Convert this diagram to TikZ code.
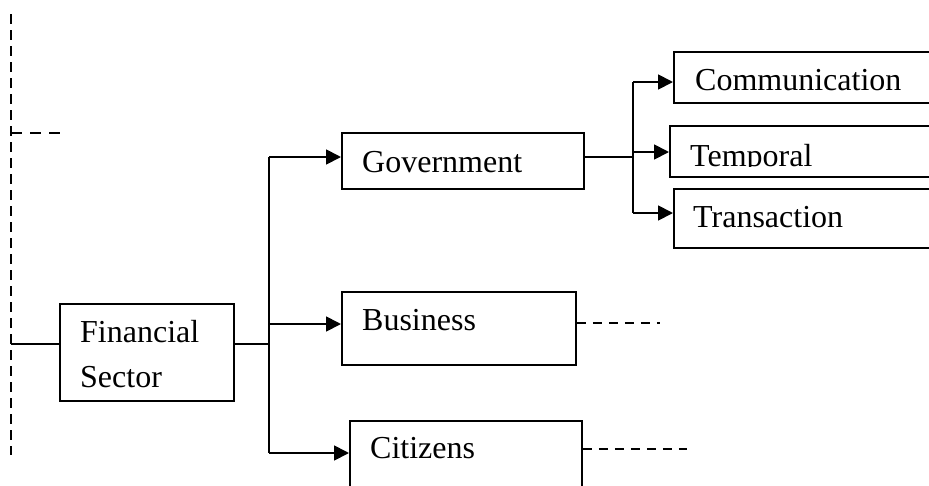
\documentclass[tikz,border=0pt]{standalone}
\usepackage{fontspec}
\setmainfont{Liberation Serif}
\usetikzlibrary{arrows.meta}
\tikzset{
  box/.style={draw, line width=1.8pt, rectangle, inner sep=0pt, anchor=north west},
  txt/.style={inner sep=0pt, anchor=base west, font=\fontsize{32}{37}\selectfont},
  link/.style={line width=1.8pt},
  arr/.style={line width=1.8pt, -{Triangle[length=15pt,width=15pt]}},
  trail/.style={line width=1.9pt, dash pattern=on 9pt off 7pt},
  frame/.style={line width=2.6pt, dash pattern=on 10pt off 6pt},
}
\begin{document}
\begin{tikzpicture}[x=1pt,y=-1pt]
\useasboundingbox (0,0) rectangle (929,485);
\clip (0,0) rectangle (929,485);

% boxes
\node[box, minimum width=174pt, minimum height=97pt] (fin) at (59,303) {};
\node[box, minimum width=242pt, minimum height=56pt] (gov) at (341,132) {};
\node[box, minimum width=234pt, minimum height=73pt] (bus) at (341,291) {};
\node[box, minimum width=232pt, minimum height=80pt] (cit) at (349,420) {};
\node[box, minimum width=267pt, minimum height=51pt] (com) at (673,51) {};
\node[box, minimum width=271pt, minimum height=51pt] (tem) at (669,125) {};
\node[box, minimum width=267pt, minimum height=59pt] (tra) at (673,188) {};

% labels
\node[txt] (finA) at (80,342) {Financial};
\node[txt] (finB) at (80,387) {Sector};
\node[txt] (govT) at (362,172) {Government};
\node[txt] (busT) at (362,330) {Business};
\node[txt] (citT) at (370,458) {Citizens};
\node[txt] (comT) at (695,90) {Communication};
\begin{scope}
  % the text area of this box cuts the label just below its baseline
  \clip (tem.north west) rectangle ([yshift=11pt]tem.south east);
  \node[txt] (temT) at (690,166) {Temporal};
\end{scope}
\node[txt] (traT) at (693,227) {Transaction};

% outer dashed frame
\coordinate (fTop) at (11,14);
\coordinate (fBot) at (11,455);
\coordinate (fMid) at (11,133);
\coordinate (fEnd) at (68,133);
\draw[frame] (fTop) -- (fBot);
\draw[frame, line width=2.2pt, dash pattern=on 11pt off 8pt] (fMid) -- (fEnd);

% financial sector links
\coordinate (fJoin) at (11,344);
\coordinate (t1) at (269,344);
\draw[link] (fJoin) -- (fJoin -| fin.west);
\draw[link] (t1 -| fin.east) -- (t1);

% first-level trunk
\coordinate (aGov) at (269,157);
\coordinate (aBus) at (269,324);
\coordinate (aCit) at (269,453);
\draw[link] (aGov) -- (aCit);
\draw[arr] (aGov) -- (aGov -| gov.west);
\draw[arr] (aBus) -- (aBus -| bus.west);
\draw[arr] (aCit) -- (aCit -| cit.west);

% second-level trunk
\coordinate (t2) at (633,157);
\coordinate (aCom) at (633,82);
\coordinate (aTem) at (633,152);
\coordinate (aTra) at (633,213);
\draw[link] (t2 -| gov.east) -- (t2);
\draw[link] (aCom) -- (aTra);
\draw[arr] (aCom) -- (aCom -| com.west);
\draw[arr] (aTem) -- (aTem -| tem.west);
\draw[arr] (aTra) -- (aTra -| tra.west);

% continuation marks
\coordinate (bEnd) at (660,323);
\coordinate (cEnd) at (687,449);
\draw[trail] (bEnd -| bus.east) -- (bEnd);
\draw[trail] (cEnd -| cit.east) -- (cEnd);
\end{tikzpicture}
\end{document}
